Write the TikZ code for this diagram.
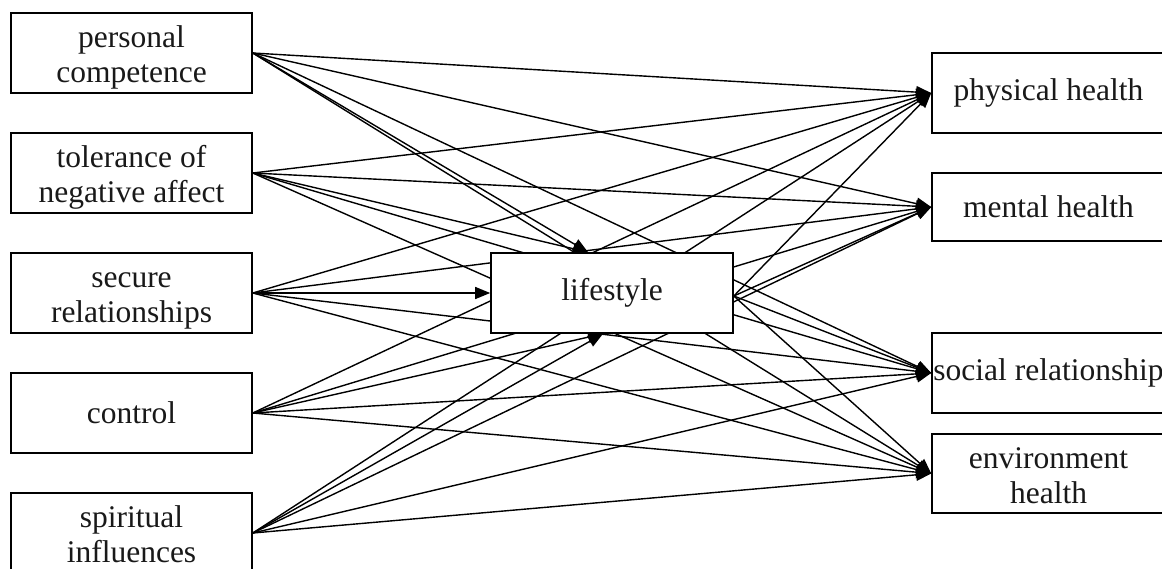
\documentclass[tikz,border=0pt]{standalone}
\usepackage{fontspec}
\setmainfont{Liberation Serif}
\usetikzlibrary{arrows.meta,backgrounds}
\begin{document}
\begin{tikzpicture}[x=1pt,y=-1pt,
  box/.style={draw=black,line width=1.6pt,fill=white,minimum width=241pt,minimum height=80pt,
    inner sep=0pt,align=center,font=\fontsize{31.5}{35}\selectfont,text=black!90},
  two/.style={text depth=0pt},
  rbox/.style={box,minimum width=233pt},
  conn/.style={line width=1.4pt,-{Triangle[length=15pt,width=12pt]}},
]
\useasboundingbox (0,0) rectangle (1162,568);
% left column
\node[box,two] (pc) at (131.5,53)  {\strut personal\\competence};
\node[box,two] (tn) at (131.5,173) {\strut tolerance of\\negative affect};
\node[box,two] (sr) at (131.5,293) {\strut secure\\relationships};
\node[box]     (co) at (131.5,413) {control};
\node[box,two] (si) at (131.5,533) {\strut spiritual\\influences};
% centre
\node[box,minimum width=242pt] (ls) at (612,293) {lifestyle};
% right column
\node[rbox] (ph) at (1048.5,93) {physical health};
\node[rbox,minimum height=68pt] (mh) at (1048.5,207) {mental health};
\node[rbox] (so) at (1048.5,373) {social relationship};
\node[rbox,two,minimum height=79pt] (en) at (1048.5,473.5) {\strut environment\\health};
% connection points on lifestyle
\coordinate (lt) at ([xshift=-24pt]ls.north);
\coordinate (lb) at ([xshift=-9pt]ls.south);
\coordinate (lr) at ([yshift=-3pt]ls.east);
\begin{scope}[on background layer]
  \foreach \s/\t in {pc/lt, tn/lt, sr/ls.west, co/lb, si/lb}
    \draw[conn] (\s.east) -- (\t);
  \foreach \s in {pc.east,tn.east,sr.east,co.east,si.east,lr}
    \foreach \t in {ph,mh,so,en}
      \draw[conn] (\s) -- (\t.west);
\end{scope}
\end{tikzpicture}
\end{document}
